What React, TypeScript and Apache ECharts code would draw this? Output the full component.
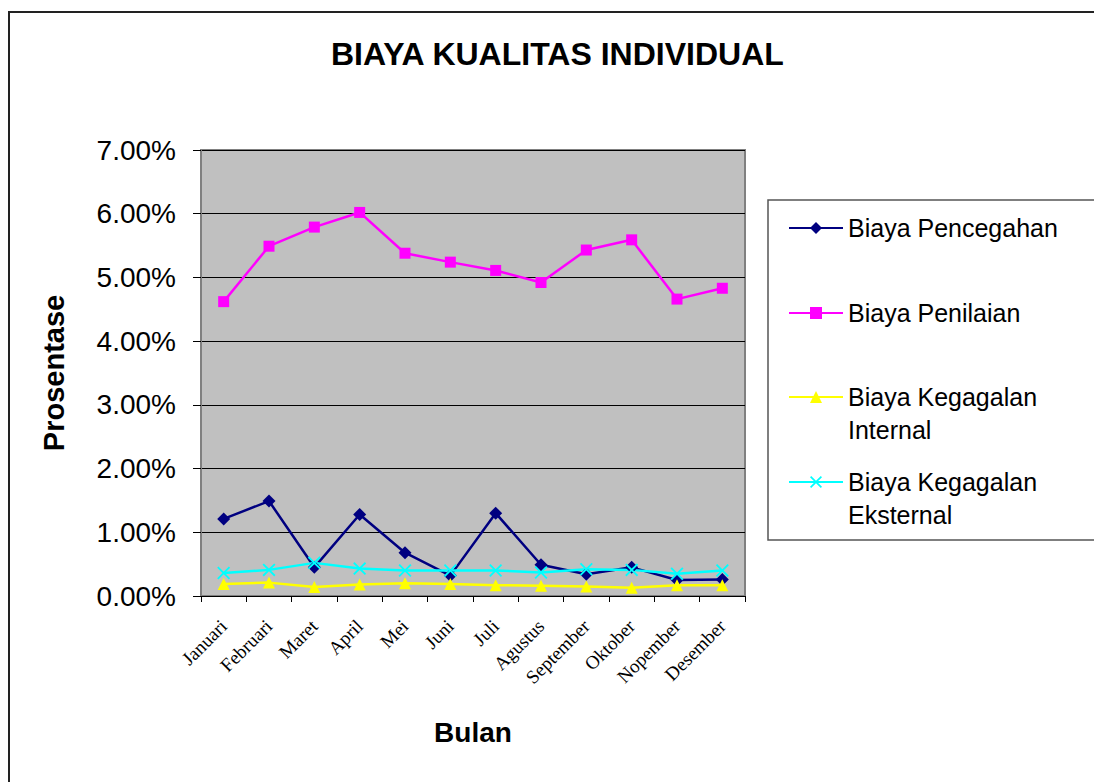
import React, { useEffect, useRef } from "react";
import * as echarts from "echarts";

const months = ["Januari", "Februari", "Maret", "April", "Mei", "Juni", "Juli", "Agustus", "September", "Oktober", "Nopember", "Desember"];
const pencegahan = [1.21, 1.49, 0.45, 1.28, 0.68, 0.32, 1.3, 0.49, 0.34, 0.45, 0.25, 0.26];
const penilaian = [4.62, 5.49, 5.79, 6.02, 5.38, 5.24, 5.11, 4.92, 5.43, 5.59, 4.66, 4.83];
const kegagalanInternal = [0.19, 0.21, 0.14, 0.18, 0.2, 0.19, 0.17, 0.16, 0.15, 0.13, 0.17, 0.17];
const kegagalanEksternal = [0.36, 0.41, 0.52, 0.43, 0.4, 0.4, 0.4, 0.37, 0.42, 0.41, 0.35, 0.4];
const seriesNames = ["Biaya Pencegahan", "Biaya Penilaian", "Biaya Kegagalan Internal", "Biaya Kegagalan Eksternal"];

const SANS = "'Liberation Sans', Arial, sans-serif";
const SERIF = "'Liberation Serif', 'Times New Roman', serif";
const X_SYMBOL = "path://M0,1 L1,0 L5,4 L9,0 L10,1 L6,5 L10,9 L9,10 L5,6 L1,10 L0,9 L4,5 Z";

export default function App() {
  const ref = useRef<HTMLDivElement>(null);
  useEffect(() => {
    const chart = echarts.init(ref.current!, null, { renderer: "svg" });
    const legendTops = [211.5, 296.5, 347.5, 432.5];
    const mkLegend = (i: number) => ({
      data: [seriesNames[i]],
      orient: "vertical",
      left: 788,
      top: legendTops[i],
      padding: 0,
      itemWidth: 54,
      itemHeight: 15,
      textStyle: { fontFamily: SANS, fontSize: 25, color: "#000", lineHeight: 33 },
      formatter: (n: string) => (n.indexOf("Kegagalan ") >= 0 ? " \n" + n.replace("Kegagalan ", "Kegagalan\n") : n),
    });
    chart.setOption({
      animation: false,
      backgroundColor: "#fff",
      title: {
        text: "BIAYA KUALITAS INDIVIDUAL",
        left: 326,
        top: 33,
        textStyle: { fontFamily: SANS, fontSize: 32, fontWeight: "bold", color: "#000" },
      },
      graphic: [
        { type: "rect", shape: { x: 9, y: 12, width: 1200, height: 1000 }, style: { fill: "none", stroke: "#222", lineWidth: 2 }, silent: true },
        { type: "rect", shape: { x: 768, y: 200, width: 400, height: 340 }, style: { fill: "#fff", stroke: "#555", lineWidth: 1.5 }, silent: true, z: -1 },
      ],
      legend: [mkLegend(0), mkLegend(1), mkLegend(2), mkLegend(3)],
      grid: {
        left: 201,
        right: 349,
        top: 150,
        bottom: 186,
        show: true,
        backgroundColor: "#C0C0C0",
        borderColor: "#808080",
        borderWidth: 2,
      },
      xAxis: {
        type: "category",
        data: months,
        boundaryGap: true,
        name: "Bulan",
        nameLocation: "middle",
        nameGap: 122,
        nameTextStyle: { fontFamily: SANS, fontSize: 28, fontWeight: "bold", color: "#000" },
        axisLine: { show: true, lineStyle: { color: "#000", width: 1 } },
        axisTick: { show: true, alignWithLabel: false, length: 6, lineStyle: { color: "#000" } },
        axisLabel: { rotate: 45, margin: 27, fontFamily: SERIF, fontSize: 19, color: "#000", interval: 0 },
        splitLine: { show: false },
      },
      yAxis: {
        type: "value",
        min: 0,
        max: 7,
        interval: 1,
        name: "Prosentase",
        nameLocation: "middle",
        nameGap: 133,
        nameRotate: 90,
        nameTextStyle: { fontFamily: SANS, fontSize: 29, fontWeight: "bold", color: "#000" },
        axisLine: { show: true, lineStyle: { color: "#808080", width: 2 } },
        axisTick: { show: true, inside: false, length: 8, lineStyle: { color: "#000" } },
        axisLabel: { formatter: (v: number) => v.toFixed(2) + "%", margin: 25, fontFamily: SANS, fontSize: 28, color: "#000" },
        splitLine: { show: true, lineStyle: { color: "#000", width: 1 } },
      },
      series: [
        {
          name: seriesNames[0], type: "line", data: pencegahan,
          symbol: "diamond", symbolSize: 13,
          lineStyle: { color: "#000080", width: 2.5 }, itemStyle: { color: "#000080" },
        },
        {
          name: seriesNames[1], type: "line", data: penilaian,
          symbol: "rect", symbolSize: 11,
          lineStyle: { color: "#FF00FF", width: 2.5 }, itemStyle: { color: "#FF00FF" },
        },
        {
          name: seriesNames[2], type: "line", data: kegagalanInternal,
          symbol: "triangle", symbolSize: 12,
          lineStyle: { color: "#FFFF00", width: 2.5 }, itemStyle: { color: "#FFFF00" },
        },
        {
          name: seriesNames[3], type: "line", data: kegagalanEksternal,
          symbol: X_SYMBOL, symbolSize: 13,
          lineStyle: { color: "#00FFFF", width: 2.5 }, itemStyle: { color: "#00FFFF" },
        },
      ],
    });
    return () => chart.dispose();
  }, []);
  return <div ref={ref} style={{ position: "absolute", left: 0, top: 0, width: 1094, height: 782 }} />;
}
